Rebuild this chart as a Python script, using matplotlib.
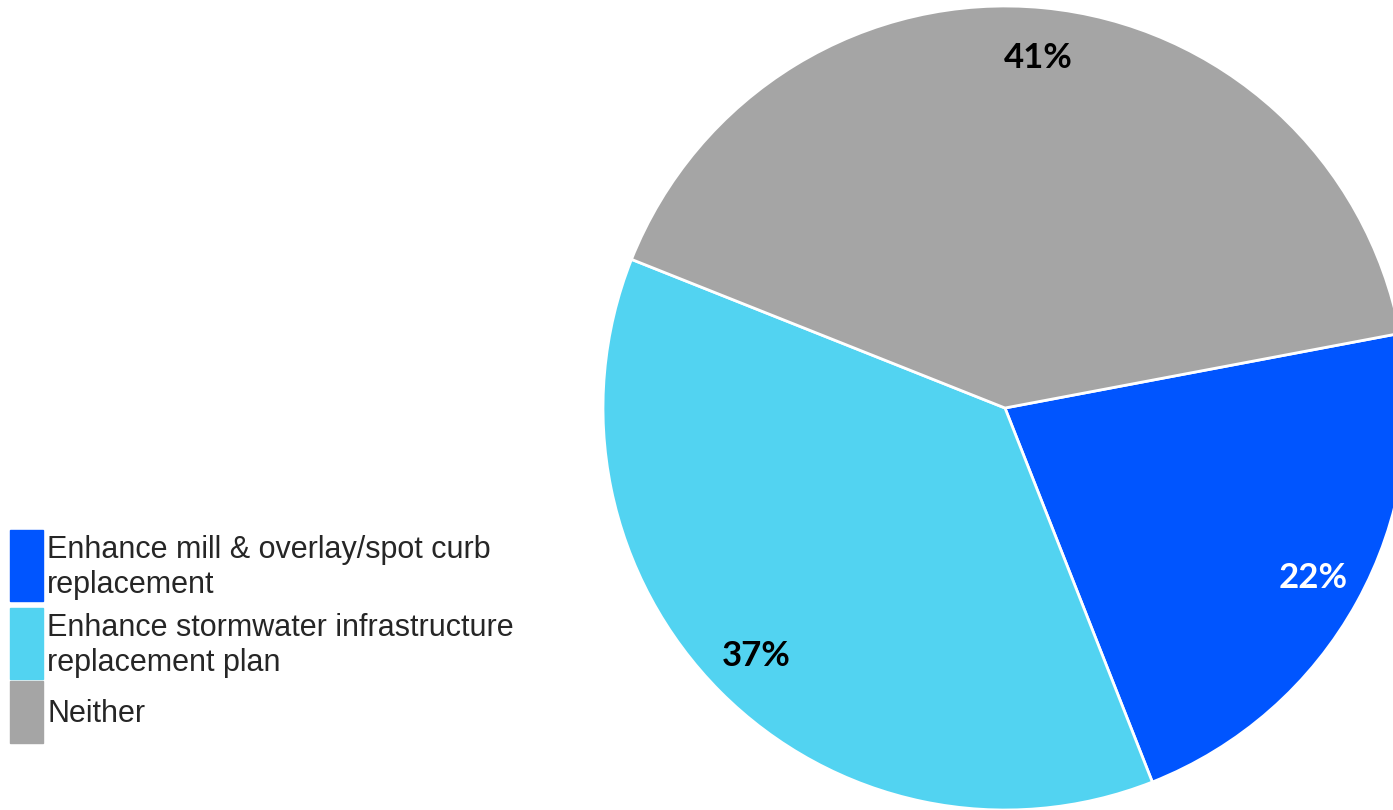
import matplotlib.pyplot as plt
from matplotlib.patches import Rectangle

# Survey answers
labels = ["Enhance mill & overlay/spot curb\nreplacement",
          "Enhance stormwater infrastructure\nreplacement plan",
          "Neither"]
shares = [22, 37, 41]
colors = ["#0055FF", "#52D3F1", "#A5A5A5"]
pct_colors = ["white", "black", "black"]

W, H = 1393, 810
fig = plt.figure(figsize=(W / 100, H / 100), dpi=100)

# pie axes: centre (1005, 408) px, radius 402 px
r = 402
ax = fig.add_axes([(1005 - r) / W, (H - 408 - r) / H, 2 * r / W, 2 * r / H])
wedges, texts, autotexts = ax.pie(
    shares, colors=colors, startangle=10.7, counterclock=False,
    autopct="%d%%", pctdistance=0.875,
    wedgeprops=dict(edgecolor="white", linewidth=2),
)
for t, c in zip(autotexts, pct_colors):
    t.set_color(c)
    t.set_fontfamily("Lato")
    t.set_fontweight("bold")
    t.set_fontsize(25)
ax.set_xlim(-1, 1)
ax.set_ylim(-1, 1)
ax.set_aspect("equal")
ax.axis("off")
for w in wedges:
    w.set_clip_on(False)

# legend on the left, drawn by hand so the boxes span the wrapped labels
boxes = [(530, 601), (608, 679), (681, 743)]
for (top, bot), lab, col in zip(boxes, labels, colors):
    fig.patches.append(Rectangle((10 / W, 1 - bot / H), 33 / W, (bot - top) / H,
                                 transform=fig.transFigure, color=col))
    fig.text(47 / W, 1 - ((top + bot) / 2 + 2) / H, lab, ha="left", va="center",
             fontsize=22, family="Liberation Sans", color="#262626",
             linespacing=1.25)

fig.savefig("out.png", dpi=100)
